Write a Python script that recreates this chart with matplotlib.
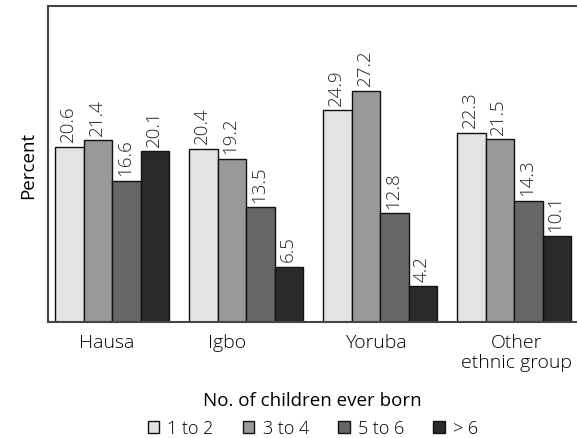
import numpy as np
import matplotlib
matplotlib.use('Agg')
import matplotlib.pyplot as plt

plt.rcParams['font.family'] = ['Open Sans', 'DejaVu Sans']

groups = ['Hausa', 'Igbo', 'Yoruba', 'Other\nethnic group']
series_names = ['1 to 2', '3 to 4', '5 to 6', '> 6']
one_to_two = [20.6, 20.4, 24.9, 22.3]
three_to_four = [21.4, 19.2, 27.2, 21.5]
five_to_six = [16.6, 13.5, 12.8, 14.3]
over_six = [20.1, 6.5, 4.2, 10.1]

series = [one_to_two, three_to_four, five_to_six, over_six]
colors = ['#e3e3e3', '#999999', '#666666', '#2a2a2a']

fig = plt.figure(figsize=(5.77, 4.39), dpi=100)
ax = fig.add_axes([48 / 577, 1 - 323 / 439, 1 - 48 / 577, (323 - 7) / 439])

x = np.arange(len(groups))
width = 0.213
for i, (vals, color, name) in enumerate(zip(series, colors, series_names)):
    pos = x + (i - 1.5) * width
    bars = ax.bar(pos, vals, width, color=color, edgecolor='#111111',
                  linewidth=1.0, label=name)
    for b, v in zip(bars, vals):
        ax.annotate('{:.1f}'.format(v), (b.get_x() + b.get_width() / 2, v),
                    xytext=(-1, 4), textcoords='offset points',
                    ha='center', va='bottom', rotation=90,
                    fontsize=13.5, fontweight='light', color='#222222')

ax.set_xlim(-0.48, 3.47)
ax.set_ylim(0, 37.2)
ax.set_yticks([])
# labels in the original sit a little off the group centres
ax.set_xticks(x + np.array([-0.045, -0.14, -0.03, 0.015]))
ax.set_xticklabels(groups, fontsize=14, fontweight='light', linespacing=1.15)
ax.tick_params(axis='x', length=0, pad=8)
for s in ['left', 'top', 'bottom']:
    ax.spines[s].set_color('#444444')
    ax.spines[s].set_linewidth(1.5)
ax.spines['right'].set_visible(False)

ax.set_ylabel('Percent', fontsize=13.5, labelpad=8)
ax.set_xlabel('No. of children ever born', fontsize=13.5, labelpad=14)

fig.legend(loc='lower center', bbox_to_anchor=(0.542, -0.035), ncol=4,
           frameon=False, handlelength=0.65, handleheight=0.65,
           handletextpad=0.45, columnspacing=1.6,
           prop={'weight': 'light', 'size': 13})

fig.savefig('out.png', dpi=100)
